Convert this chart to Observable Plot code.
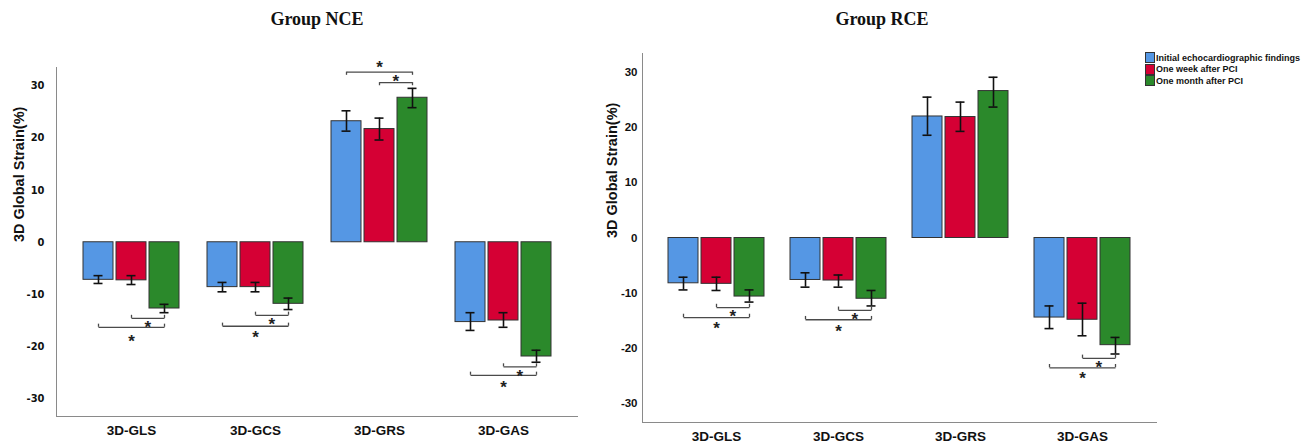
<!DOCTYPE html>
<html><head><meta charset="utf-8">
<script src="https://cdn.jsdelivr.net/npm/d3@7"></script>
<script src="https://cdn.jsdelivr.net/npm/@observablehq/plot@0.6"></script>
<style>
body{margin:0;background:#fff;}
#root{position:relative;width:1304px;height:445px;overflow:hidden;background:#fff;}
.title{position:absolute;top:9px;font-family:"Liberation Serif","Times New Roman",serif;font-weight:bold;font-size:18px;color:#111;transform:translateX(-50%);white-space:nowrap;}
.panel{position:absolute;top:0;height:445px;}
.panel svg{position:absolute;left:0;top:0;}
.legend{position:absolute;left:1145px;top:52px;font-family:"Liberation Sans",Arial,sans-serif;font-weight:bold;font-size:9px;color:#111;}
.legend .row{display:flex;align-items:center;height:11.5px;}
.legend .sw{width:8px;height:9px;border:1px solid #333;margin-right:1px;}
</style></head>
<body>
<div id="root"></div>
<script>
// ---------- data ----------
const categories = ["3D-GLS", "3D-GCS", "3D-GRS", "3D-GAS"];
const seriesNames = ["Initial echocardiographic findings", "One week after PCI", "One month after PCI"];
const colors = ["#5597e4", "#d50034", "#2b892b"];
const yTicks = [-30, -20, -10, 0, 10, 20, 30];
const yLabel = "3D Global Strain(%)";
const panelTitles = ["Group NCE", "Group RCE"];

// Group NCE: mean and error bar ends, per category (rows) and series (columns)
const nceMean = [[-7.2, -7.3, -12.7], [-8.6, -8.6, -11.8], [23.2, 21.7, 27.7], [-15.3, -15.0, -21.9]];
const nceLow  = [[-7.9, -8.1, -13.5], [-9.5, -9.5, -12.9], [21.3, 19.6, 25.8], [-16.9, -16.3, -23.0]];
const nceHigh = [[-6.4, -6.4, -11.9], [-7.7, -7.7, -10.7], [25.2, 23.8, 29.5], [-13.5, -13.5, -20.7]];
// significance brackets: [category, from series, to series, bracket y, star y]
const nceBrackets = [
  ["3D-GLS", 1, 2, -14.6, -15.6], ["3D-GLS", 0, 2, -16.3, -18.3],
  ["3D-GCS", 1, 2, -14.0, -15.0], ["3D-GCS", 0, 2, -16.1, -17.5],
  ["3D-GRS", 0, 2, 32.6, 34.2],   ["3D-GRS", 1, 2, 30.6, 31.6],
  ["3D-GAS", 1, 2, -23.9, -25.0], ["3D-GAS", 0, 2, -25.5, -27.1]
];

// Group RCE
const rceMean = [[-8.2, -8.3, -10.6], [-7.6, -7.7, -11.0], [22.0, 21.9, 26.6], [-14.4, -14.8, -19.4]];
const rceLow  = [[-9.4, -9.5, -11.6], [-8.9, -8.9, -12.3], [18.6, 19.3, 23.7], [-16.4, -17.7, -21.0]];
const rceHigh = [[-7.1, -7.1, -9.4], [-6.3, -6.7, -9.5], [25.5, 24.6, 29.1], [-12.3, -11.8, -18.0]];
const rceBrackets = [
  ["3D-GLS", 1, 2, -12.6, -13.5], ["3D-GLS", 0, 2, -14.4, -15.7],
  ["3D-GCS", 1, 2, -13.1, -14.0], ["3D-GCS", 0, 2, -14.8, -16.2],
  ["3D-GAS", 1, 2, -21.8, -22.7], ["3D-GAS", 0, 2, -23.5, -24.7]
];

// ---------- drawing ----------
const sans = "'Liberation Sans', Arial, sans-serif";
const condensed = "'DejaVu Sans Condensed', 'Liberation Sans Narrow', 'Liberation Sans', sans-serif";
const bandPad = {paddingInner: 0.21, paddingOuter: 0.2};

function panel(o) {
  const dims = {width: o.width, height: 445, marginLeft: o.marginLeft, marginRight: o.marginRight,
    marginTop: o.marginTop, marginBottom: o.marginBottom};
  const style = {fontFamily: sans, color: "#111", background: "transparent", overflow: "visible"};

  // axes layer
  const base = Plot.plot({
    ...dims, style,
    x: {type: "band", domain: categories, ...bandPad, label: null},
    y: {domain: o.yDomain, label: null},
    marks: [
      Plot.frame({anchor: "left", stroke: "#8a8a8a"}),
      Plot.frame({anchor: "bottom", stroke: "#8a8a8a"}),
      Plot.axisY({ticks: yTicks, tickSize: 0, tickPadding: o.tickPadding, tickFormat: d => String(d),
        fontFamily: o.tickFont, fontWeight: "bold", fontSize: o.tickSize, label: null}),
      Plot.axisX({tickSize: 0, tickPadding: 9, fontSize: 13.5, fontWeight: "bold", label: null}),
      Plot.text([yLabel], {text: d => d, frameAnchor: "left", rotate: -90, dx: -o.labelDx,
        fontSize: 14.5, fontWeight: "bold", fill: "#111"})
    ]
  });

  // bars layer
  const rows = [];
  categories.forEach((c, i) => seriesNames.forEach((s, j) =>
    rows.push({cat: c, ser: s, v: o.mean[i][j], lo: o.low[i][j], hi: o.high[i][j]})));
  const br = o.brackets.map(([c, a, b, y, sy]) => ({
    cat: c, a: seriesNames[a], b: seriesNames[b], ai: a, bi: b, y, sy, t: y + (y < 0 ? 0.6 : -0.6)
  }));
  const ends = br.flatMap(d => [{cat: d.cat, ser: d.a, y: d.y, t: d.t}, {cat: d.cat, ser: d.b, y: d.y, t: d.t}]);
  const starsMid = br.filter(d => (d.ai + d.bi) % 2 === 0).map(d => ({...d, x: seriesNames[(d.ai + d.bi) / 2]}));
  const starsHalf = br.filter(d => (d.ai + d.bi) % 2 === 1).map(d => ({...d, x: d.b}));
  const starStyle = {text: () => "*", fontSize: 17, fontWeight: "bold", dy: 4, fill: "#222"};
  const bars = Plot.plot({
    ...dims, style,
    fx: {domain: categories, ...bandPad, axis: null},
    x: {domain: seriesNames, paddingInner: 0.1, paddingOuter: 0, axis: null},
    y: {domain: o.yDomain, axis: null},
    color: {domain: seriesNames, range: colors},
    marks: [
      Plot.barY(rows, {fx: "cat", x: "ser", y: "v", fill: "ser", stroke: "#333", strokeWidth: 1}),
      Plot.ruleX(rows, {fx: "cat", x: "ser", y1: "lo", y2: "hi", stroke: "#111", strokeWidth: 1.6}),
      Plot.tickY(rows, {fx: "cat", x: "ser", y: "lo", stroke: "#111", strokeWidth: 1.6, insetLeft: 10.5, insetRight: 10.5}),
      Plot.tickY(rows, {fx: "cat", x: "ser", y: "hi", stroke: "#111", strokeWidth: 1.6, insetLeft: 10.5, insetRight: 10.5}),
      Plot.link(br, {fx: "cat", x1: "a", x2: "b", y1: "y", y2: "y", stroke: "#4a4a4a", strokeWidth: 1.3}),
      Plot.ruleX(ends, {fx: "cat", x: "ser", y1: "y", y2: "t", stroke: "#4a4a4a", strokeWidth: 1.3}),
      Plot.text(starsMid, {fx: "cat", x: "x", y: "sy", ...starStyle}),
      Plot.text(starsHalf, {fx: "cat", x: "x", y: "sy", ...starStyle, dx: -16.6})
    ]
  });

  const div = document.createElement("div");
  div.className = "panel";
  div.style.left = o.left + "px";
  div.style.width = o.width + "px";
  div.append(base, bars);
  return div;
}

const root = document.getElementById("root");

root.append(panel({mean: nceMean, low: nceLow, high: nceHigh, brackets: nceBrackets,
  left: 0, width: 600, marginLeft: 56, marginRight: 23, marginTop: 67, marginBottom: 29,
  yDomain: [-33.4, 33.5], tickPadding: 12, tickFont: condensed, tickSize: 11, labelDx: 37}));

root.append(panel({mean: rceMean, low: rceLow, high: rceHigh, brackets: rceBrackets,
  left: 590, width: 714, marginLeft: 52, marginRight: 148, marginTop: 53, marginBottom: 23,
  yDomain: [-33.4, 33.4], tickPadding: 5, tickFont: sans, tickSize: 11.5, labelDx: 30}));

[[panelTitles[0], 317], [panelTitles[1], 882]].forEach(([t, x]) => {
  const d = document.createElement("div");
  d.className = "title"; d.style.left = x + "px"; d.textContent = t;
  root.append(d);
});

const legend = document.createElement("div");
legend.className = "legend";
seriesNames.forEach((s, i) => {
  const r = document.createElement("div"); r.className = "row";
  const sw = document.createElement("div"); sw.className = "sw"; sw.style.background = colors[i];
  const tx = document.createElement("span"); tx.textContent = s;
  r.append(sw, tx); legend.append(r);
});
root.append(legend);
</script>
</body></html>
